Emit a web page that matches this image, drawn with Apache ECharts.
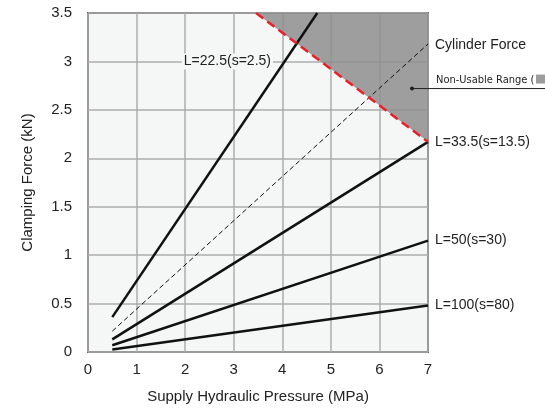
<!DOCTYPE html>
<html>
<head>
<meta charset="utf-8">
<script src="https://cdn.jsdelivr.net/npm/echarts@6/dist/echarts.min.js"></script>
<style>
  html, body { margin: 0; padding: 0; background: #fff; }
  #chart { width: 545px; height: 409px; }
</style>
</head>
<body>
<div id="chart"></div>
<script>
// pressure (MPa), force (kN)
let l22 = [[0.5, 0.36], [4.72, 3.5]];
let cylinder = [[0.5, 0.215], [7, 3.18]];
let l33 = [[0.5, 0.13], [7, 2.17]];
let l50 = [[0.5, 0.07], [7, 1.15]];
let l100 = [[0.5, 0.025], [7, 0.48]];
let limit = [[3.46, 3.5], [7, 2.17]];
let xTicks = [0, 1, 2, 3, 4, 5, 6, 7];
let yTicks = [0, 0.5, 1, 1.5, 2, 2.5, 3, 3.5];

const FONT = '"Liberation Sans", Arial, sans-serif';
const NARROW = '"Liberation Sans Narrow", "DejaVu Sans Condensed", sans-serif';

let myChart = echarts.init(document.getElementById('chart'));

function blackLine(name, data, label) {
    return {
        name: name,
        type: 'line',
        data: data,
        symbol: 'none',
        z: 3,
        lineStyle: {color: '#111', width: 2.5},
        endLabel: {
            show: !!label,
            formatter: label || '',
            color: '#222',
            fontFamily: FONT,
            fontSize: 14,
            distance: 7
        }
    };
}

let option = {
    animation: false,
    backgroundColor: '#fff',
    grid: {
        left: 88,
        right: 117,
        top: 13,
        bottom: 57,
        show: true,
        backgroundColor: '#f5f6f6',
        borderColor: '#666',
        borderWidth: 2
    },
    xAxis: {
        type: 'value',
        min: xTicks[0],
        max: xTicks[xTicks.length - 1],
        interval: 1,
        name: 'Supply Hydraulic Pressure (MPa)',
        nameLocation: 'middle',
        nameGap: 37,
        nameTextStyle: {color: '#222', fontFamily: FONT, fontSize: 15},
        axisLine: {show: false},
        axisTick: {show: false},
        axisLabel: {color: '#222', fontFamily: FONT, fontSize: 15, margin: 10},
        splitLine: {show: true, lineStyle: {color: '#adadad', width: 1.5}}
    },
    yAxis: {
        type: 'value',
        min: yTicks[0],
        max: yTicks[yTicks.length - 1],
        interval: 0.5,
        name: 'Clamping Force (kN)',
        nameLocation: 'middle',
        nameGap: 53,
        nameTextStyle: {color: '#222', fontFamily: FONT, fontSize: 15},
        axisLine: {show: false},
        axisTick: {show: false},
        axisLabel: {color: '#222', fontFamily: FONT, fontSize: 15, margin: 16},
        splitLine: {show: true, lineStyle: {color: '#adadad', width: 1.5}}
    },
    series: [
        {
            name: 'Non-Usable Range',
            type: 'line',
            data: limit,
            symbol: 'none',
            z: 1,
            lineStyle: {width: 0},
            areaStyle: {origin: 'end', color: '#8e8e8e', opacity: 0.85}
        },
        {
            name: 'Cylinder Force',
            type: 'line',
            data: cylinder,
            symbol: 'none',
            z: 3,
            lineStyle: {color: '#111', width: 1, type: [5, 3]},
            endLabel: {
                show: true,
                formatter: 'Cylinder Force',
                color: '#222',
                fontFamily: FONT,
                fontSize: 14,
                distance: 7,
                offset: [0, 1]
            }
        },
        Object.assign(blackLine('L=22.5', l22, ''), {
            markPoint: {
                symbol: 'circle',
                symbolSize: 0,
                data: [{coord: [2.87, 3.0]}],
                label: {
                    show: true,
                    position: 'inside',
                    formatter: 'L=22.5(s=2.5)',
                    color: '#222',
                    fontFamily: FONT,
                    fontSize: 14,
                    backgroundColor: '#f5f6f6',
                    padding: [1, 2]
                }
            }
        }),
        blackLine('L=33.5', l33, 'L=33.5(s=13.5)'),
        blackLine('L=50', l50, 'L=50(s=30)'),
        blackLine('L=100', l100, 'L=100(s=80)'),
        {
            name: 'limit',
            type: 'line',
            data: limit,
            symbol: 'none',
            z: 4,
            lineStyle: {color: '#e8202a', width: 2.5, type: [9, 5]}
        }
    ]
};
myChart.setOption(option);

// leader for the non-usable range note
let dot = myChart.convertToPixel({gridIndex: 0}, [6.67, 2.72]);
myChart.setOption({
    graphic: [
        {type: 'circle', shape: {cx: dot[0], cy: dot[1], r: 2}, style: {fill: '#222'}, z: 10},
        {type: 'line', shape: {x1: dot[0], y1: dot[1], x2: 545, y2: dot[1]},
            style: {stroke: '#222', lineWidth: 1}, z: 10},
        {type: 'text', x: 436, y: dot[1] - 3,
            style: {text: 'Non-Usable Range (', fill: '#222', font: '11px ' + NARROW,
                textVerticalAlign: 'bottom'}, z: 10},
        {type: 'rect', shape: {x: 536, y: dot[1] - 14, width: 9, height: 9},
            style: {fill: '#9d9d9d'}, z: 10}
    ]
});
</script>
</body>
</html>
